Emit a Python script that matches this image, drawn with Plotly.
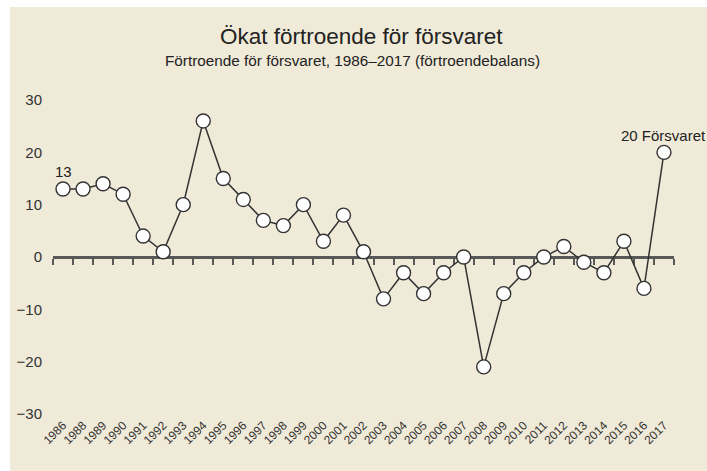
import plotly.graph_objects as go

# ---- data ----
years = ["1986", "1988", "1989", "1990", "1991", "1992", "1993", "1994", "1995", "1996",
         "1997", "1998", "1999", "2000", "2001", "2002", "2003", "2004", "2005", "2006",
         "2007", "2008", "2009", "2010", "2011", "2012", "2013", "2014", "2015", "2016", "2017"]
values = [13, 13, 14, 12, 4, 1, 10, 26, 15, 11,
          7, 6, 10, 3, 8, 1, -8, -3, -7, -3,
          0, -21, -7, -3, 0, 2, -1, -3, 3, -6, 20]
y_ticks = [-30, -20, -10, 0, 10, 20, 30]
y_ticktext = ["\u221230", "\u221220", "\u221210", "0", "10", "20", "30"]

title = "Ökat förtroende för försvaret"
subtitle = "Förtroende för försvaret, 1986\u20132017 (förtroendebalans)"
series_name = "Försvaret"

# ---- layout geometry (pixels) ----
W, H = 707, 471
L, R, T, B = 53, 33, 100, 57
pw, ph = W - L - R, H - T - B

def px_x(px):
    return (px - L) / pw

def px_y(py):
    return (H - B - py) / ph

FONT = "Liberation Sans, Arial, Helvetica, sans-serif"
BEIGE = "#F0EAD8"
AXIS = "#585858"
LINE = "#333333"

fig = go.Figure()

# helper trace for the zero-line tick axis
fig.add_trace(go.Scatter(x=years, y=values, xaxis="x2", yaxis="y", mode="markers",
                         marker=dict(opacity=0), hoverinfo="skip", showlegend=False))

fig.add_trace(go.Scatter(
    x=years, y=values, mode="lines+markers",
    line=dict(color=LINE, width=1.5),
    marker=dict(size=14, color="white", line=dict(color=LINE, width=1.4)),
    showlegend=False, cliponaxis=False,
))

ncat = len(years)
fig.update_layout(
    width=W, height=H,
    margin=dict(l=L, r=R, t=T, b=B),
    paper_bgcolor=BEIGE,
    plot_bgcolor=BEIGE,
    font=dict(family=FONT, color="#333333"),
    xaxis=dict(type="category", categoryorder="array", categoryarray=years,
               range=[-0.5, ncat - 0.5], showline=False, showgrid=False, zeroline=False,
               ticks="", tickangle=-45, tickfont=dict(size=12, color="#333333"),
               ticklabelstandoff=1),
    xaxis2=dict(type="category", categoryorder="array", categoryarray=years,
                overlaying="x", anchor="free", position=0.5, side="bottom",
                range=[-0.5, ncat - 0.5], showgrid=False, zeroline=False,
                showline=True, linecolor=AXIS, linewidth=2.5,
                tickson="boundaries", ticks="outside", ticklen=6, tickwidth=1.6,
                tickcolor=AXIS, showticklabels=False, layer="below traces"),
    yaxis=dict(range=[-30, 30], tickvals=y_ticks, ticktext=y_ticktext,
               showgrid=False, zeroline=False, showline=False, ticks="",
               tickfont=dict(size=15, color="#333333"), ticklabelstandoff=10),
    shapes=[
        dict(type="rect", xref="paper", yref="paper", layer="below",
             x0=px_x(-2), x1=px_x(W + 2), y0=px_y(7), y1=px_y(-2),
             fillcolor="white", line=dict(width=0)),
        dict(type="rect", xref="paper", yref="paper", layer="below",
             x0=px_x(-2), x1=px_x(10), y0=px_y(H + 2), y1=px_y(-2),
             fillcolor="white", line=dict(width=0)),
    ],
    annotations=[
        dict(text=title, xref="paper", yref="paper", x=px_x(361), y=px_y(37),
             xanchor="center", yanchor="middle", showarrow=False,
             font=dict(size=22.5, color="#222222", family=FONT)),
        dict(text=subtitle, xref="paper", yref="paper", x=px_x(352), y=px_y(61),
             xanchor="center", yanchor="middle", showarrow=False,
             font=dict(size=15.3, color="#222222", family=FONT)),
        dict(text=str(values[0]), x=0, y=values[0], xref="x", yref="y",
             xanchor="center", yanchor="middle", yshift=17, showarrow=False,
             font=dict(size=15, color="#222222", family=FONT)),
        dict(text=f"{values[-1]} {series_name}", x=ncat - 1, y=values[-1], xref="x", yref="y",
             xanchor="center", yanchor="middle", yshift=17, showarrow=False,
             font=dict(size=15, color="#222222", family=FONT)),
    ],
)

fig.write_html(
    "out.html",
    config=dict(displayModeBar=False),
    post_script="document.body.style.margin='0';document.body.style.overflow='hidden';",
)
